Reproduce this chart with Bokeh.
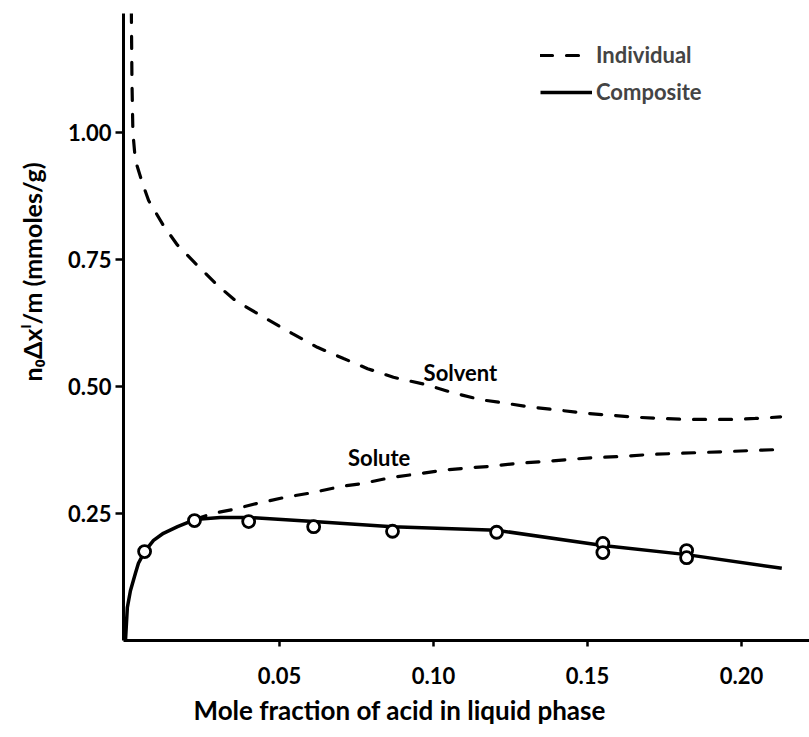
from bokeh.plotting import figure
from bokeh.models import Range1d, FixedTicker, Label, Legend, LegendItem, Title
from bokeh.embed import file_html
from bokeh.resources import INLINE

# ---- data ----
solvent_x = [0.0019, 0.0021, 0.0024, 0.0032, 0.0055, 0.0075, 0.0123, 0.0169, 0.0234,
             0.0299, 0.0357, 0.0455, 0.0542, 0.0623, 0.0708, 0.0786, 0.0870, 0.0980,
             0.1060, 0.1153, 0.1234, 0.1320, 0.1412, 0.1500, 0.1580, 0.1670, 0.1747,
             0.1830, 0.1906, 0.1980, 0.2045, 0.2127]
solvent_y = [1.24, 1.10, 1.00, 0.945, 0.900, 0.866, 0.817, 0.778, 0.738,
             0.699, 0.669, 0.634, 0.604, 0.577, 0.555, 0.535, 0.518, 0.503,
             0.488, 0.474, 0.467, 0.459, 0.453, 0.447, 0.443, 0.439, 0.437,
             0.435, 0.435, 0.435, 0.437, 0.440]

solute_x = [0.0224, 0.0282, 0.0350, 0.0429, 0.0520, 0.0607, 0.0698, 0.0770, 0.0864,
            0.0938, 0.1032, 0.1100, 0.1190, 0.1276, 0.1357, 0.1435, 0.1520, 0.1607,
            0.1700, 0.1780, 0.1870, 0.1960, 0.2040, 0.2127]
solute_y = [0.238, 0.250, 0.258, 0.270, 0.282, 0.291, 0.303, 0.309, 0.321,
            0.327, 0.335, 0.339, 0.343, 0.349, 0.352, 0.356, 0.360, 0.362,
            0.366, 0.368, 0.370, 0.372, 0.374, 0.376]

composite_x = [0.0, 0.0003, 0.0006, 0.0016, 0.0032, 0.0042, 0.0062, 0.0091, 0.0123,
               0.0169, 0.0201, 0.0224, 0.0308, 0.0403, 0.0611, 0.0867, 0.1205,
               0.1550, 0.1822, 0.2131]
composite_y = [0.0, 0.033, 0.065, 0.098, 0.132, 0.152, 0.175, 0.197, 0.211,
               0.224, 0.232, 0.238, 0.242, 0.242, 0.234, 0.224, 0.217,
               0.187, 0.169, 0.142]

points_x = [0.0062, 0.0224, 0.0400, 0.0611, 0.0867, 0.1205, 0.1550, 0.1550, 0.1822, 0.1822]
points_y = [0.175, 0.236, 0.234, 0.224, 0.215, 0.213, 0.191, 0.173, 0.177, 0.163]

x_ticks = [0.05, 0.10, 0.15, 0.20]
x_tick_labels = ["0.05", "0.10", "0.15", "0.20"]
y_ticks = [0.25, 0.50, 0.75, 1.00]
y_tick_labels = ["0.25", "0.50", "0.75", "1.00"]

FONT = "Lato"

p = figure(width=809, height=737, output_backend="svg", toolbar_location=None,
           x_range=Range1d(-0.00065, 0.2221), y_range=Range1d(0, 1.234))
p.min_border_left = 123
p.min_border_right = 0
p.min_border_top = 13
p.min_border_bottom = 97
p.outline_line_color = None
p.grid.visible = False
p.background_fill_color = "white"
p.border_fill_color = "white"

for ax in (p.xaxis[0], p.yaxis[0]):
    ax.axis_line_width = 3
    ax.axis_line_color = "black"
    ax.major_tick_line_width = 2.5
    ax.major_tick_line_color = "black"
    ax.major_tick_in = 0
    ax.minor_tick_line_color = None
    ax.major_label_text_font = FONT
    ax.major_label_text_font_style = "bold"
    ax.major_label_text_font_size = "22px"
    ax.major_label_text_color = "black"

p.xaxis.ticker = FixedTicker(ticks=x_ticks)
p.xaxis.major_label_overrides = dict(zip(x_ticks, x_tick_labels))
p.xaxis.major_tick_out = 6
p.xaxis.major_label_standoff = 20

p.yaxis.ticker = FixedTicker(ticks=y_ticks)
p.yaxis.major_label_overrides = dict(zip(y_ticks, y_tick_labels))
p.yaxis.major_tick_out = 8
p.yaxis.major_label_standoff = 4

r_solvent = p.line(solvent_x, solvent_y, line_color="black", line_width=3.2,
                   line_dash="12 14", line_cap="round")
p.line(solute_x, solute_y, line_color="black", line_width=3.2,
       line_dash="12 14", line_cap="round")
r_comp = p.line(composite_x, composite_y, line_color="black", line_width=3.5,
                line_join="round")
p.scatter(points_x, points_y, size=12, marker="circle", fill_color="white",
          line_color="black", line_width=2.8)

label_kw = dict(text_font=FONT, text_font_style="bold", text_color="black")
p.add_layout(Label(x=0.0968, y=0.528, text="Solvent", text_align="left",
                   text_baseline="middle", text_font_size="22px", **label_kw))
p.add_layout(Label(x=0.0925, y=0.360, text="Solute", text_align="right",
                   text_baseline="middle", text_font_size="22px", **label_kw))

xtitle = Title(text="Mole fraction of acid in liquid phase", align="left", offset=70,
               vertical_align="bottom", text_font=FONT, text_font_style="bold",
               text_font_size="26px", text_line_height=1.0,
               text_color="black", standoff=10)
p.add_layout(xtitle, "below")

ytitle = Title(text="n\u2080\u0394x\u02e1/m (mmoles/g)", align="left", offset=259,
               vertical_align="top", text_font=FONT, text_font_style="bold",
               text_font_size="25px", text_line_height=1.0,
               text_color="black", standoff=31)
p.add_layout(ytitle, "left")

legend = Legend(items=[LegendItem(label="Individual", renderers=[r_solvent]),
                       LegendItem(label="Composite", renderers=[r_comp])],
                location=(417, 535))
legend.border_line_color = None
legend.background_fill_alpha = 0
legend.label_text_font = FONT
legend.label_text_font_style = "bold"
legend.label_text_font_size = "22px"
legend.glyph_width = 52
legend.glyph_height = 20
legend.label_standoff = 4
legend.spacing = 10
legend.padding = 0
legend.margin = 0
p.add_layout(legend, "center")

open("out.html", "w").write(file_html(p, INLINE))
